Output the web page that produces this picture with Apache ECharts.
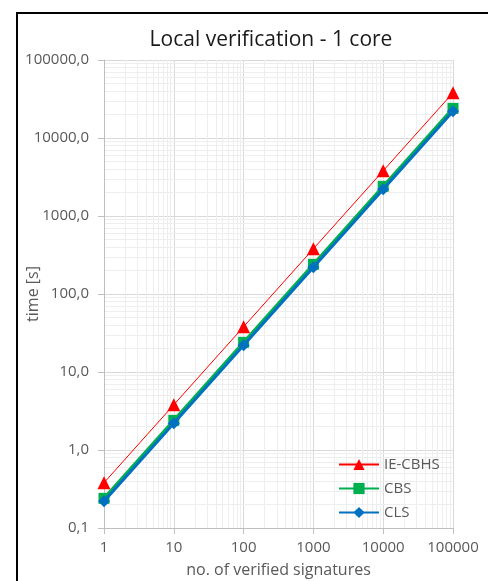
<!DOCTYPE html>
<html><head><meta charset="utf-8">
<script src="https://cdn.jsdelivr.net/npm/echarts@6/dist/echarts.min.js"></script>
<style>html,body{margin:0;padding:0;background:#fff}#c{width:488px;height:581px}</style>
</head><body><div id="c"></div>
<script>
const signatures = [1, 10, 100, 1000, 10000, 100000];
const ieCbhs = [0.38, 3.8, 38, 380, 3800, 38000];
const cbs = [0.24, 2.4, 24, 240, 2400, 24000];
const cls = [0.22, 2.2, 22, 220, 2200, 22000];
const yMin = 0.1, yMax = 100000;
const xMin = 1, xMax = 100000;

function minorVals(lo, hi) {
  const out = [];
  for (let d = lo; d < hi; d *= 10) for (let k = 2; k <= 9; k++) out.push(+(k * d).toPrecision(3));
  return out;
}
const xMinor = minorVals(xMin, xMax);
const yMinor = minorVals(yMin, yMax);

const chart = echarts.init(document.getElementById('c'));
const font = '"Open Sans", "Noto Sans", sans-serif';
const pair = (xs, ys) => xs.map((x, i) => [x, ys[i]]);
chart.setOption({
  animation: false,
  backgroundColor: '#fff',
  title: { text: 'Local verification - 1 core', left: 266, textAlign: 'center', top: 25,
    textStyle: { fontFamily: font, fontSize: 21, fontWeight: 'normal', color: '#1a1a1a' } },
  graphic: [{ type: 'rect', shape: { x: 17, y: 13, width: 480, height: 580 }, style: { fill: 'none', stroke: '#000', lineWidth: 2 }, silent: true }],
  grid: { left: 104, right: 35, top: 60, bottom: 53, containLabel: false, outerBoundsMode: 'none' },
  legend: { orient: 'vertical', left: 333, top: 452, itemWidth: 40, itemHeight: 14, itemGap: 9,
    textStyle: { fontFamily: font, fontSize: 15, color: '#595959' },
    data: ['IE-CBHS', 'CBS', 'CLS'] },
  xAxis: { type: 'log', logBase: 10, min: xMin, max: xMax,
    name: 'no. of verified signatures', nameLocation: 'middle', nameGap: 42, nameMoveOverlap: false,
    nameTextStyle: { fontFamily: font, fontSize: 16, color: '#595959', verticalAlign: 'middle' },
    axisLine: { show: true, lineStyle: { color: '#bfbfbf', width: 1 } },
    axisTick: { show: true, length: 6, lineStyle: { color: '#bfbfbf' } },
    axisLabel: { fontFamily: font, fontSize: 15, color: '#595959', margin: 12, formatter: v => String(Math.round(v)) },
    splitLine: { show: true, lineStyle: { color: '#d9d9d9', width: 1 } } },
  yAxis: { type: 'log', logBase: 10, min: yMin, max: yMax,
    name: 'time [s]', nameLocation: 'middle', nameGap: 71, nameRotate: 90, nameMoveOverlap: false,
    nameTextStyle: { fontFamily: font, fontSize: 16, color: '#595959', verticalAlign: 'middle' },
    axisLine: { show: true, lineStyle: { color: '#bfbfbf', width: 1 } },
    axisTick: { show: true, length: 6, lineStyle: { color: '#bfbfbf' } },
    axisLabel: { fontFamily: font, fontSize: 15, color: '#595959', margin: 15,
      formatter: v => (Math.round(v * 10) / 10).toFixed(1).replace('.', ',') },
    splitLine: { show: true, lineStyle: { color: '#d9d9d9', width: 1 } } },
  series: [
    { name: 'grid-minor', type: 'line', data: [], silent: true, z: 0,
      markLine: { silent: true, symbol: 'none', z: 0, label: { show: false },
        emphasis: { disabled: true },
        lineStyle: { color: '#eeeeee', width: 1, type: 'solid' },
        data: xMinor.map(v => ({ xAxis: v })).concat(yMinor.map(v => ({ yAxis: v }))) } },
    { name: 'IE-CBHS', type: 'line', data: pair(signatures, ieCbhs), symbol: 'triangle', symbolSize: 13,
      lineStyle: { color: '#ff0000', width: 1 }, itemStyle: { color: '#ff0000' }, z: 3 },
    { name: 'CBS', type: 'line', data: pair(signatures, cbs), symbol: 'rect', symbolSize: 11,
      lineStyle: { color: '#00b050', width: 3 }, itemStyle: { color: '#00b050' }, z: 4 },
    { name: 'CLS', type: 'line', data: pair(signatures, cls), symbol: 'diamond', symbolSize: 12,
      lineStyle: { color: '#0070c0', width: 3 }, itemStyle: { color: '#0070c0' }, z: 5 }
  ]
});
</script></body></html>
